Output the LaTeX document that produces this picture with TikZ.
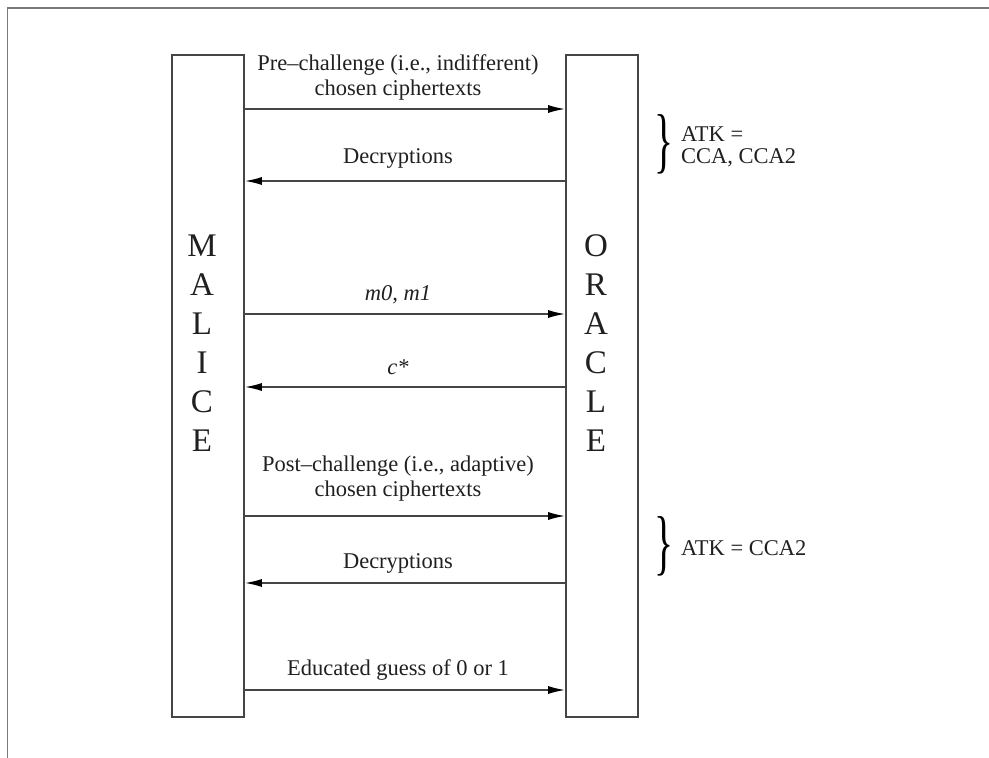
\documentclass[tikz,border=0pt]{standalone}
\usepackage{fontspec}
\setmainfont{Liberation Serif}
\usetikzlibrary{arrows.meta}
\definecolor{linec}{HTML}{454545}
\definecolor{framec}{HTML}{7A7A7A}
\definecolor{txt}{HTML}{202020}
\tikzset{
  party/.style={draw=linec, line width=1.6pt, minimum width=72pt, minimum height=662pt, inner sep=0pt},
  msg/.style={draw=linec, line width=1.6pt, -{Latex[length=17pt,width=8pt,fill=black,color=black]}},
  lbl/.style={text=txt, font=\fontsize{22.5}{25}\selectfont, align=center, inner sep=0pt},
  big/.style={text=txt, font=\fontsize{33}{38.9}\selectfont, align=center, inner sep=0pt},
  side/.style={text=txt, font=\fontsize{22.5}{21.5}\selectfont, align=left, inner sep=0pt, anchor=west},
  brc/.style={text=black, inner sep=0pt}
}
\newcommand{\bigbrace}{\scalebox{0.55}[1]{\fontsize{72}{72}\selectfont\}}}
\begin{document}
\begin{tikzpicture}[x=1pt,y=-1pt]
\useasboundingbox (0,0) rectangle (989,758);
\draw[framec, line width=1.8pt] (7.5,758) -- (7.5,8) -- (989,8);
\node[party] (malice) at (208,386) {};
\node[party] (oracle) at (602,386) {};
\node[big] (mtext) at (202,343) {M\\A\\L\\I\\C\\E};
\node[big] (otext) at (596,343) {O\\R\\A\\C\\L\\E};
% messages
\coordinate (y1) at (0,109);
\coordinate (y2) at (0,181);
\coordinate (y3) at (0,314);
\coordinate (y4) at (0,387);
\coordinate (y5) at (0,516);
\coordinate (y6) at (0,583);
\coordinate (y7) at (0,690);
\draw[msg] (malice.east |- y1) -- (oracle.west |- y1);
\draw[msg] (oracle.west |- y2) -- (malice.east |- y2);
\draw[msg] (malice.east |- y3) -- (oracle.west |- y3);
\draw[msg] (oracle.west |- y4) -- (malice.east |- y4);
\draw[msg] (malice.east |- y5) -- (oracle.west |- y5);
\draw[msg] (oracle.west |- y6) -- (malice.east |- y6);
\draw[msg] (malice.east |- y7) -- (oracle.west |- y7);
\node[lbl] (l1) at (398,77) {Pre--challenge (i.e., indifferent)\\chosen ciphertexts};
\node[lbl] (l2) at (398,158) {Decryptions};
\node[lbl] (l3) at (398,295) {\itshape m0, m1};
\node[lbl] (l4) at (398,367) {\itshape c*};
\node[lbl] (l5) at (398,479) {Post--challenge (i.e., adaptive)\\chosen ciphertexts};
\node[lbl] (l6) at (398,563) {Decryptions};
\node[lbl] (l7) at (398,670) {Educated guess of 0 or 1};
% braces
\node[brc] (b1) at (664,144) {\bigbrace};
\node[side] (s1) at (681,147) {ATK =\\CCA, CCA2};
\node[brc] (b2) at (664,546) {\bigbrace};
\node[side] (s2) at (681,548) {ATK = CCA2};
\end{tikzpicture}
\end{document}
